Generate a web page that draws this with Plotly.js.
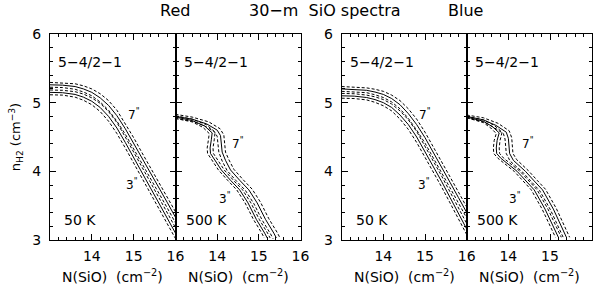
<!DOCTYPE html>
<html><head><meta charset="utf-8">
<script src="https://cdn.plot.ly/plotly-3.0.1.min.js"></script>
<style>html,body{margin:0;padding:0;background:#fff}#c{width:600px;height:287px}</style>
</head><body><div id="c"></div>
<script>
// ---- data (log N(SiO) vs log n(H2)) ----
// Panel 1: Red, 50 K  (common N grid)
const N_p1 = [13.0,13.3,13.6,13.8,14.0,14.2,14.4,14.6,14.8,15.0,15.2,15.4,15.6,15.8,16.0];
const p1_7_mid = [5.26,5.255,5.235,5.20,5.15,5.07,4.96,4.81,4.62,4.41,4.19,3.98,3.77,3.55,3.33];
const p1_7_hi  = [5.295,5.29,5.275,5.245,5.20,5.13,5.03,4.89,4.70,4.49,4.27,4.06,3.85,3.63,3.41];
const p1_7_lo  = [5.225,5.22,5.195,5.155,5.10,5.01,4.89,4.73,4.54,4.33,4.11,3.90,3.69,3.47,3.25];
const p1_3_mid = [5.15,5.145,5.12,5.08,5.02,4.93,4.80,4.63,4.42,4.20,3.98,3.76,3.54,3.32,3.10];
const p1_3_hi  = [5.185,5.18,5.16,5.125,5.07,4.99,4.87,4.71,4.50,4.28,4.06,3.84,3.62,3.40,3.18];
const p1_3_lo  = [5.115,5.11,5.08,5.035,4.97,4.87,4.73,4.55,4.34,4.12,3.90,3.68,3.46,3.24,3.02];

// Panel 3: Blue, 50 K
const N_p3 = [13.0,13.3,13.6,13.8,14.0,14.2,14.4,14.6,14.8,15.0,15.2,15.4,15.6,15.8,16.0];
const p3_7_mid = [5.20,5.195,5.18,5.155,5.12,5.06,4.97,4.84,4.68,4.49,4.28,4.06,3.84,3.62,3.40];
const p3_7_hi  = [5.235,5.23,5.215,5.195,5.165,5.11,5.03,4.91,4.76,4.57,4.36,4.14,3.92,3.70,3.48];
const p3_7_lo  = [5.165,5.16,5.145,5.115,5.075,5.01,4.91,4.77,4.60,4.41,4.20,3.98,3.76,3.54,3.32];
const p3_3_mid = [5.10,5.095,5.075,5.045,5.00,4.93,4.82,4.68,4.50,4.29,4.07,3.85,3.62,3.39,3.16];
const p3_3_hi  = [5.135,5.13,5.11,5.085,5.045,4.98,4.88,4.75,4.58,4.37,4.15,3.93,3.70,3.47,3.24];
const p3_3_lo  = [5.065,5.06,5.04,5.005,4.955,4.88,4.76,4.61,4.42,4.21,3.99,3.77,3.54,3.31,3.08];

// Panel 2: Red, 500 K
const p2_7_mid_x = [13.0,13.4,13.75,14.0,14.08,14.1,14.12,14.2,14.32,14.54,14.76,14.96,15.16,15.36,15.42];
const p2_7_mid_y = [4.80,4.76,4.69,4.60,4.52,4.40,4.28,4.16,4.02,3.87,3.73,3.54,3.30,3.10,3.03];
const p2_7_hi_x  = [13.0,13.4,13.8,14.07,14.16,14.18,14.2,14.28,14.40,14.62,14.84,15.04,15.24,15.44,15.50];
const p2_7_hi_y  = [4.83,4.79,4.72,4.62,4.53,4.40,4.28,4.17,4.03,3.88,3.74,3.55,3.31,3.11,3.04];
const p2_7_lo_x  = [13.0,13.4,13.7,13.93,14.0,14.02,14.04,14.12,14.24,14.46,14.68,14.88,15.08,15.28,15.34];
const p2_7_lo_y  = [4.77,4.73,4.66,4.58,4.51,4.40,4.28,4.15,4.01,3.86,3.72,3.53,3.29,3.09,3.02];
const p2_3_mid_x = [13.0,13.4,13.7,13.88,13.86,13.83,13.84,13.92,14.10,14.32,14.54,14.74,14.94,15.14,15.20];
const p2_3_mid_y = [4.79,4.74,4.66,4.56,4.46,4.34,4.26,4.18,4.02,3.87,3.73,3.54,3.30,3.10,3.03];
const p2_3_hi_x  = [13.0,13.4,13.74,13.95,13.93,13.9,13.91,13.99,14.17,14.39,14.61,14.81,15.01,15.21,15.27];
const p2_3_hi_y  = [4.81,4.76,4.68,4.57,4.46,4.34,4.26,4.18,4.02,3.87,3.73,3.54,3.30,3.10,3.03];
const p2_3_lo_x  = [13.0,13.4,13.66,13.81,13.79,13.76,13.77,13.85,14.03,14.25,14.47,14.67,14.87,15.07,15.13];
const p2_3_lo_y  = [4.77,4.72,4.64,4.55,4.46,4.34,4.26,4.18,4.02,3.87,3.73,3.54,3.30,3.10,3.03];

// Panel 4: Blue, 500 K
const p4_7_mid_x = [13.0,13.4,13.7,13.95,14.0,14.01,14.03,14.12,14.41,14.62,14.82,15.08,15.34,15.40];
const p4_7_mid_y = [4.80,4.75,4.67,4.57,4.48,4.36,4.26,4.16,4.00,3.86,3.73,3.45,3.12,3.03];
const p4_7_hi_x  = [13.0,13.4,13.75,14.02,14.08,14.09,14.11,14.20,14.48,14.69,14.89,15.15,15.41,15.47];
const p4_7_hi_y  = [4.82,4.78,4.70,4.59,4.49,4.36,4.26,4.17,4.01,3.87,3.74,3.46,3.13,3.04];
const p4_7_lo_x  = [13.0,13.4,13.65,13.88,13.92,13.93,13.95,14.04,14.34,14.55,14.75,15.01,15.27,15.33];
const p4_7_lo_y  = [4.78,4.72,4.64,4.55,4.47,4.36,4.26,4.15,3.99,3.85,3.72,3.44,3.11,3.02];
const p4_3_mid_x = [13.0,13.4,13.62,13.78,13.73,13.71,13.72,13.82,14.21,14.42,14.62,14.88,15.14,15.20];
const p4_3_mid_y = [4.79,4.73,4.65,4.56,4.45,4.34,4.26,4.19,4.00,3.86,3.73,3.45,3.12,3.04];
const p4_3_hi_x  = [13.0,13.4,13.66,13.85,13.8,13.78,13.79,13.89,14.28,14.49,14.69,14.95,15.21,15.27];
const p4_3_hi_y  = [4.80,4.75,4.67,4.57,4.45,4.34,4.26,4.19,4.00,3.86,3.73,3.45,3.12,3.04];
const p4_3_lo_x  = [13.0,13.4,13.58,13.71,13.66,13.64,13.65,13.75,14.14,14.35,14.55,14.81,15.07,15.13];
const p4_3_lo_y  = [4.78,4.71,4.63,4.55,4.45,4.34,4.26,4.19,4.00,3.86,3.73,3.45,3.12,3.04];

// ---- labels ----
const xTickVals = [14,15,16];
const yTickVals = [3,4,5,6];
const transitionLabel = "5\u22124/2\u22121";
const tempLabels = ["50 K","500 K","50 K","500 K"];
const topLabels = ["Red","30\u2212m  SiO spectra","Blue"];
const xTitle = "N(SiO)  (cm<sup>\u22122</sup>)";
const yTitle = "n<sub>H2</sub> (cm<sup>\u22123</sup>)";

// ---- build ----
const FONT = "DejaVu Sans, Verdana, sans-serif";
const traces = [];
function add(x,y,ax,dash){
  traces.push({x:x,y:y,xaxis:'x'+ax,yaxis:'y'+ax,type:'scatter',mode:'lines',
    line:{color:'#000',width:1,dash:dash?'3px,2px':'solid'},hoverinfo:'skip',showlegend:false});
}
// panel 1
add(N_p1,p1_7_hi,'',1);add(N_p1,p1_7_mid,'',0);add(N_p1,p1_7_lo,'',1);
add(N_p1,p1_3_hi,'',1);add(N_p1,p1_3_mid,'',0);add(N_p1,p1_3_lo,'',1);
// panel 2
add(p2_7_hi_x,p2_7_hi_y,'2',1);add(p2_7_mid_x,p2_7_mid_y,'2',0);add(p2_7_lo_x,p2_7_lo_y,'2',1);
add(p2_3_hi_x,p2_3_hi_y,'2',1);add(p2_3_mid_x,p2_3_mid_y,'2',0);add(p2_3_lo_x,p2_3_lo_y,'2',1);
// panel 3
add(N_p3,p3_7_hi,'3',1);add(N_p3,p3_7_mid,'3',0);add(N_p3,p3_7_lo,'3',1);
add(N_p3,p3_3_hi,'3',1);add(N_p3,p3_3_mid,'3',0);add(N_p3,p3_3_lo,'3',1);
// panel 4
add(p4_7_hi_x,p4_7_hi_y,'4',1);add(p4_7_mid_x,p4_7_mid_y,'4',0);add(p4_7_lo_x,p4_7_lo_y,'4',1);
add(p4_3_hi_x,p4_3_hi_y,'4',1);add(p4_3_mid_x,p4_3_mid_y,'4',0);add(p4_3_lo_x,p4_3_lo_y,'4',1);

const W=600,H=287;
const fx = p => p/W, fy = p => 1 - p/H;
const panels = [[50,175.5],[175.5,300.5],[341.7,466.7],[466.7,591.7]];
const yDom = [fy(240), fy(34)];

function xaxis(i){
  return {domain:[fx(panels[i][0]),fx(panels[i][1])],range:[13,16],anchor:'y'+(i?i+1:''),
    tickmode:'array',tickvals:xTickVals,ticks:'inside',ticklen:6,tickwidth:1,tickcolor:'#000',
    minor:{dtick:0.2,tick0:13,ticks:'inside',ticklen:3,tickwidth:1,tickcolor:'#000'},
    showline:true,linecolor:'#000',linewidth:1,mirror:'allticks',showgrid:false,zeroline:false,
    tickfont:{family:FONT,size:14,color:'#000'},ticklabelstandoff:3,automargin:false};
}
function yaxis(i){
  return {domain:yDom,range:[3,6],anchor:'x'+(i?i+1:''),
    tickmode:'array',tickvals:yTickVals,ticks:'inside',ticklen:6,tickwidth:1,tickcolor:'#000',
    minor:{dtick:0.2,tick0:3,ticks:'inside',ticklen:3,tickwidth:1,tickcolor:'#000'},
    showline:true,linecolor:'#000',linewidth:1,mirror:'allticks',showgrid:false,zeroline:false,
    showticklabels:(i===0||i===2),ticklabelstandoff:5,
    tickfont:{family:FONT,size:14,color:'#000'},automargin:false};
}
const layout = {width:W,height:H,margin:{l:0,r:0,t:0,b:0},paper_bgcolor:'#fff',plot_bgcolor:'rgba(0,0,0,0)',
  showlegend:false,font:{family:FONT,size:14,color:'#000'},
  xaxis:xaxis(0),xaxis2:xaxis(1),xaxis3:xaxis(2),xaxis4:xaxis(3),
  yaxis:yaxis(0),yaxis2:yaxis(1),yaxis3:yaxis(2),yaxis4:yaxis(3),
  annotations:[]};
layout.yaxis.title = {text:yTitle,font:{family:FONT,size:13,color:'#000'},standoff:8};

const ann = (x,y,text,size,xa) => layout.annotations.push({xref:'paper',yref:'paper',x:fx(x),y:fy(y),
  text:text,showarrow:false,xanchor:xa||'center',yanchor:'middle',font:{family:FONT,size:size,color:'#000'}});
ann(175,10,topLabels[0],16);
ann(325,10,topLabels[1],16);
ann(465,10,topLabels[2],16);
panels.forEach((p,i)=>{
  ann(p[0]+6,62,transitionLabel,14,'left');
  ann(p[0]+(i%2?8.5:12),220,tempLabels[i],14,'left');
  ann((p[0]+p[1])/2,276,xTitle,14);   // x-axis title of each panel
});
// curve labels
ann(134,114,'7<sup>"</sup>',12); ann(238,143,'7<sup>"</sup>',12);
ann(132,184,'3<sup>"</sup>',12); ann(225,198,'3<sup>"</sup>',12);
ann(425,114,'7<sup>"</sup>',12); ann(528,143,'7<sup>"</sup>',12);
ann(424,184,'3<sup>"</sup>',12); ann(515,198,'3<sup>"</sup>',12);

Plotly.newPlot('c',traces,layout,{staticPlot:true,displayModeBar:false});
</script></body></html>
